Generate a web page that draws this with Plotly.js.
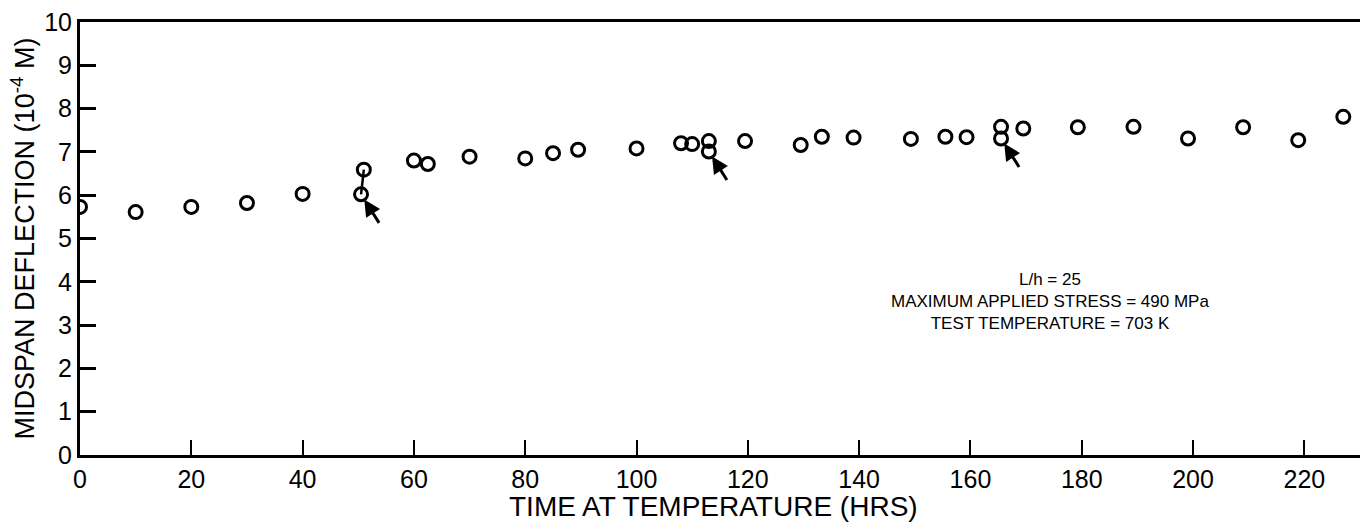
<!DOCTYPE html>
<html>
<head>
<meta charset="utf-8">
<script src="https://cdn.plot.ly/plotly-3.0.1.min.js"></script>
<style>html,body{margin:0;padding:0;background:#fff;}#chart{width:1360px;height:528px;}</style>
</head>
<body>
<div id="chart"></div>
<script>
// Time at temperature (hours)
const timeHrs = [0, 10, 20, 30, 40, 50.5, 51, 60, 62.5, 70, 80, 85, 89.5, 100, 108, 110, 113, 113, 119.5,
  129.5, 133.3, 139, 149.3, 155.5, 159.3, 165.5, 165.5, 169.5, 179.3, 189.3, 199.1, 209, 218.9, 227];
// Midspan deflection (1e-4 m)
const deflection = [5.73, 5.61, 5.73, 5.82, 6.03, 6.02, 6.59, 6.80, 6.72, 6.89, 6.85, 6.97, 7.05, 7.08, 7.20, 7.18, 7.25, 7.01, 7.25,
  7.16, 7.35, 7.33, 7.30, 7.35, 7.34, 7.58, 7.31, 7.54, 7.57, 7.58, 7.31, 7.57, 7.27, 7.81];
// indices of points joined by a short line (reloading step)
const joinedPair = [5, 6];
// indices of points marked with an arrow
const arrowPoints = [5, 17, 26];
const xTicks = [0, 20, 40, 60, 80, 100, 120, 140, 160, 180, 200, 220];
const yTicks = [0, 1, 2, 3, 4, 5, 6, 7, 8, 9, 10];
const noteLines = ["L/h = 25", "MAXIMUM APPLIED STRESS = 490 MPa", "TEST TEMPERATURE = 703 K"];

const FONT = "Liberation Sans, Arial, Helvetica, sans-serif";

const traces = [
  {
    x: joinedPair.map(i => timeHrs[i]),
    y: joinedPair.map(i => deflection[i]),
    mode: 'lines', line: {color: 'black', width: 2.5},
    showlegend: false, hoverinfo: 'skip'
  },
  {
    x: timeHrs, y: deflection, mode: 'markers',
    marker: {symbol: 'circle-open', size: 13, color: 'black', line: {width: 3, color: 'black'}},
    showlegend: false
  }
];

const annotations = arrowPoints.map(i => ({
  x: timeHrs[i], y: deflection[i], xref: 'x', yref: 'y',
  ax: 19, ay: 30, axref: 'pixel', ayref: 'pixel',
  showarrow: true, arrowhead: 2, arrowsize: 1.1, arrowwidth: 3, arrowcolor: 'black',
  standoff: 6, text: ''
}));

annotations.push({
  xref: 'paper', yref: 'paper', x: 0.758, y: 0.355, xanchor: 'center', yanchor: 'middle',
  text: noteLines.join('<br>'), showarrow: false, align: 'center',
  font: {family: FONT, size: 17, color: 'black'}
});

annotations.push({
  xref: 'paper', yref: 'paper', x: 0.495, y: -0.12, xanchor: 'center', yanchor: 'middle',
  text: 'TIME AT TEMPERATURE (HRS)', showarrow: false,
  font: {family: FONT, size: 28, color: 'black'}
});

const layout = {
  width: 1360, height: 528,
  margin: {l: 80, r: 0, t: 22, b: 73},
  paper_bgcolor: 'white', plot_bgcolor: 'white',
  font: {family: FONT, color: 'black'},
  xaxis: {
    range: [0, 230], tickvals: xTicks, ticktext: xTicks.map(String),
    ticks: 'inside', ticklen: 15, tickwidth: 2, tickcolor: 'black',
    showline: true, linewidth: 3, linecolor: 'black', mirror: true,
    showgrid: false, zeroline: false,
    tickfont: {family: FONT, size: 25, color: 'black'}
  },
  yaxis: {
    range: [0, 10], tickvals: yTicks, ticktext: yTicks.map(String),
    ticks: 'inside', ticklen: 16, tickwidth: 3, tickcolor: 'black',
    showline: true, linewidth: 3, linecolor: 'black',
    showgrid: false, zeroline: false,
    tickfont: {family: FONT, size: 25, color: 'black'},
    title: {text: 'MIDSPAN DEFLECTION (10<sup>-4</sup> M)', font: {family: FONT, size: 27, color: 'black'}, standoff: 2}
  },
  annotations: annotations,
  showlegend: false
};

Plotly.newPlot('chart', traces, layout, {displayModeBar: false, staticPlot: true});
</script>
</body>
</html>
